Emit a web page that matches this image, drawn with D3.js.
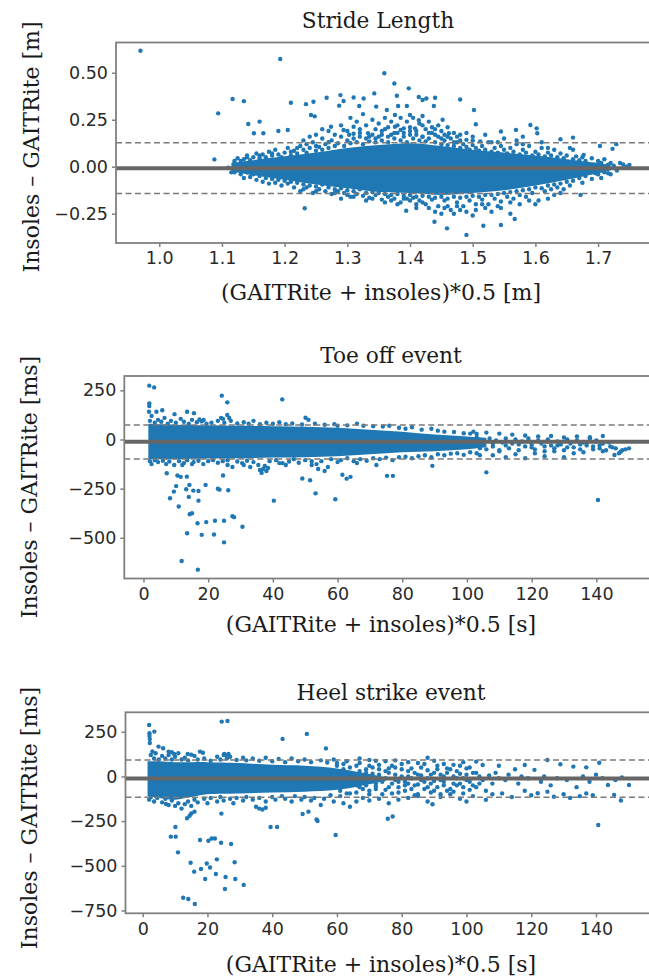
<!DOCTYPE html>
<html><head><meta charset="utf-8">
<script src="https://cdn.jsdelivr.net/npm/d3@7"></script>
<style>body{margin:0;background:#fff}svg{display:block}</style>
</head><body>
<script>
// ---------------- DATA ----------------
// Panel 1: Stride Length
const strideTitle = "Stride Length";
const strideXLabel = "(GAITRite + insoles)*0.5 [m]";
const strideYLabel = "Insoles – GAITRite [m]";
const strideXTicks = [1.0,1.1,1.2,1.3,1.4,1.5,1.6,1.7];
const strideYTicks = [-0.25,0.0,0.25,0.5];
const strideLimits = [-0.008, 0.128, -0.143]; // mean, upper LoA, lower LoA
const strideBandX  = [1.115,1.15,1.2,1.25,1.3,1.35,1.4,1.45,1.5,1.55,1.6,1.65,1.7,1.72];
const strideBandLo = [-0.025,-0.045,-0.07,-0.095,-0.115,-0.135,-0.14,-0.15,-0.14,-0.125,-0.1,-0.07,-0.035,-0.02];
const strideBandHi = [0.02,0.035,0.055,0.075,0.1,0.115,0.125,0.11,0.09,0.075,0.06,0.04,0.02,0.01];
const stridePoints = [
[0.970,0.617],[1.193,0.573],[1.359,0.497],[1.375,0.443],[1.398,0.417],[1.379,0.378],[1.480,0.358],[1.094,0.284],[1.117,0.360],[1.135,0.349],[1.502,0.302],[1.088,0.039],[1.232,-0.221],[1.394,-0.234],[1.459,-0.328],[1.490,-0.363],[1.517,-0.314],[1.545,-0.310],[1.567,-0.278],[1.439,-0.293],
[1.142,0.227],[1.160,0.240],[1.151,0.178],[1.166,0.178],[1.190,0.19],[1.205,0.195],[1.21,0.34],[1.234,0.333],[1.246,0.346],[1.242,0.275],[1.248,0.268],[1.267,0.367],[1.289,0.381],[1.287,0.325],[1.294,0.35],[1.310,0.368],[1.319,0.323],[1.326,0.363],[1.343,0.390],[1.346,0.32],[1.363,0.302],[1.376,0.275],[1.381,0.323],[1.395,0.323],[1.400,0.275],[1.414,0.371],[1.420,0.355],[1.426,0.363],[1.44,0.367],[1.438,0.323],[1.414,0.248],[1.408,0.204],[1.385,0.196],[1.452,0.25],[1.462,0.178],[1.475,0.16],[1.505,0.226],[1.49,0.143],[1.512,0.135],[1.545,0.187],[1.569,0.196],[1.592,0.222],[1.602,0.204],[1.603,0.178],[1.640,0.146],[1.660,0.155],[1.677,0.063],[1.703,0.11],[1.723,0.095],[1.729,0.12],[1.716,0.011],[1.740,0.012],[1.683,-0.021],[1.696,-0.035],[1.716,-0.035],[1.672,-0.15],
[1.274,0.213],[1.294,0.195],[1.303,0.17],[1.31,0.213],[1.32,0.16],[1.333,0.178],[1.345,0.15],[1.355,0.19],[1.365,0.16],[1.376,0.213],[1.39,0.204],[1.40,0.19],[1.42,0.22],[1.43,0.18],[1.44,0.2],[1.45,0.15],[1.47,0.13],[1.48,0.17],[1.27,0.13],[1.28,0.17],[1.26,0.15],[1.25,0.11],[1.235,0.12],[1.22,0.10],[1.21,0.08],[1.18,0.07],[1.16,0.06],[1.14,0.05],[1.13,0.03],[1.12,0.02],[1.11,-0.005],[1.115,-0.03],
[1.23,-0.12],[1.25,-0.13],[1.28,-0.14],[1.30,-0.15],[1.34,-0.17],[1.37,-0.18],[1.40,-0.18],[1.41,-0.2],[1.43,-0.22],[1.45,-0.25],[1.46,-0.21],[1.48,-0.23],[1.50,-0.26],[1.52,-0.22],[1.54,-0.21],[1.56,-0.19],[1.60,-0.2],[1.63,-0.15],[1.75,0.01],[1.66,0.09],[1.62,0.1],[1.58,0.12],[1.54,0.13],[1.50,0.14],[1.46,0.16],[1.42,0.16]
];
const stridePlume = [
[1.29,0.22],[1.30,0.19],[1.305,0.26],[1.31,0.175],[1.315,0.24],[1.32,0.2],[1.325,0.28],[1.33,0.22],[1.335,0.16],[1.34,0.25],[1.345,0.2],[1.35,0.23],[1.355,0.17],[1.36,0.26],[1.365,0.21],[1.37,0.24],[1.375,0.18],[1.38,0.22],[1.385,0.26],[1.39,0.18],[1.395,0.24],[1.40,0.21],[1.405,0.26],[1.41,0.17],[1.415,0.23],[1.42,0.27],[1.425,0.2],[1.43,0.24],[1.435,0.21],[1.44,0.17],[1.445,0.22],[1.45,0.19],[1.455,0.17],[1.46,0.21],[1.47,0.18],[1.48,0.14],[1.49,0.18],[1.50,0.16],[1.52,0.17],[1.53,0.13],[1.55,0.15],[1.57,0.14],[1.58,0.16],[1.61,0.13],[1.27,0.19],[1.26,0.2],[1.25,0.17],[1.24,0.16],[1.23,0.14],
[1.36,-0.19],[1.38,-0.2],[1.39,-0.17],[1.41,-0.22],[1.42,-0.19],[1.44,-0.24],[1.455,-0.22],[1.47,-0.25],[1.475,-0.21],[1.49,-0.24],[1.505,-0.23],[1.515,-0.2],[1.53,-0.24],[1.545,-0.22],[1.56,-0.25],[1.575,-0.2],[1.59,-0.18],[1.62,-0.17],[1.64,-0.14],[1.33,-0.18],[1.31,-0.16],[1.29,-0.17]
];
const strideEdgeUpper = [
[1.12,0.03],[1.125,0.045],[1.13,0.01],[1.135,0.04],[1.14,0.06],[1.145,0.035],[1.15,0.05],[1.155,0.07],[1.16,0.045],[1.165,0.065],[1.17,0.05],[1.175,0.08],[1.18,0.06],[1.185,0.09],[1.19,0.065],[1.195,0.05],[1.2,0.075],[1.205,0.1],[1.21,0.06],[1.215,0.085],[1.22,0.07],[1.225,0.11],[1.23,0.09],[1.235,0.075],[1.24,0.1],[1.245,0.13],[1.25,0.085],[1.255,0.105],[1.26,0.09],[1.265,0.12],[1.27,0.1],[1.275,0.14],[1.28,0.11],[1.285,0.125],[1.29,0.16],[1.295,0.11],[1.3,0.14],[1.305,0.125],[1.31,0.15],[1.315,0.13],[1.32,0.18],[1.325,0.12],[1.33,0.15],[1.335,0.135],[1.34,0.17],[1.345,0.13],[1.35,0.16],[1.355,0.14],[1.36,0.2],[1.365,0.13],[1.37,0.17],[1.375,0.15],[1.38,0.18],[1.385,0.14],[1.39,0.16],[1.395,0.13],[1.4,0.17],[1.405,0.15],[1.41,0.19],[1.415,0.14],[1.42,0.16],[1.425,0.135],[1.43,0.15],[1.435,0.18],[1.44,0.13],[1.445,0.16],[1.45,0.12],[1.455,0.14],[1.46,0.115],[1.465,0.15],[1.47,0.11],[1.475,0.13],[1.48,0.1],[1.485,0.12],[1.49,0.105],[1.495,0.09],[1.5,0.115],[1.505,0.1],[1.51,0.085],[1.515,0.11],[1.52,0.09],[1.525,0.13],[1.53,0.08],[1.535,0.1],[1.54,0.075],[1.545,0.11],[1.55,0.09],[1.555,0.07],[1.56,0.1],[1.565,0.08],[1.57,0.12],[1.575,0.065],[1.58,0.09],[1.585,0.075],[1.59,0.11],[1.595,0.06],[1.6,0.08],[1.605,0.065],[1.61,0.1],[1.615,0.055],[1.62,0.075],[1.625,0.06],[1.63,0.09],[1.635,0.05],[1.64,0.07],[1.645,0.045],[1.65,0.06],[1.655,0.1],[1.66,0.04],[1.665,0.055],[1.67,0.035],[1.675,0.05],[1.68,0.03],[1.69,0.045],[1.7,0.03],[1.705,0.02],[1.71,0.04],[1.72,0.02],[1.725,0.005],[1.735,0.02],[1.745,0.0]
];
const strideEdgeLower = [
[1.12,-0.03],[1.125,-0.015],[1.13,-0.04],[1.135,-0.06],[1.14,-0.03],[1.145,-0.055],[1.15,-0.04],[1.155,-0.07],[1.16,-0.05],[1.165,-0.08],[1.17,-0.06],[1.175,-0.09],[1.18,-0.065],[1.185,-0.085],[1.19,-0.07],[1.195,-0.1],[1.2,-0.075],[1.205,-0.09],[1.21,-0.08],[1.215,-0.11],[1.22,-0.085],[1.225,-0.13],[1.23,-0.095],[1.235,-0.11],[1.24,-0.1],[1.245,-0.14],[1.25,-0.105],[1.255,-0.12],[1.26,-0.095],[1.265,-0.13],[1.27,-0.11],[1.275,-0.145],[1.28,-0.12],[1.285,-0.13],[1.29,-0.115],[1.295,-0.14],[1.3,-0.125],[1.305,-0.16],[1.31,-0.13],[1.315,-0.145],[1.32,-0.12],[1.325,-0.155],[1.33,-0.14],[1.335,-0.165],[1.34,-0.135],[1.345,-0.15],[1.35,-0.14],[1.355,-0.175],[1.36,-0.145],[1.365,-0.16],[1.37,-0.15],[1.375,-0.17],[1.38,-0.145],[1.385,-0.19],[1.39,-0.155],[1.395,-0.17],[1.4,-0.15],[1.405,-0.165],[1.41,-0.16],[1.415,-0.18],[1.42,-0.155],[1.425,-0.2],[1.43,-0.16],[1.435,-0.175],[1.44,-0.165],[1.445,-0.21],[1.45,-0.16],[1.455,-0.18],[1.46,-0.17],[1.465,-0.23],[1.47,-0.16],[1.475,-0.19],[1.48,-0.165],[1.485,-0.21],[1.49,-0.16],[1.495,-0.18],[1.5,-0.155],[1.505,-0.2],[1.51,-0.16],[1.515,-0.175],[1.52,-0.15],[1.525,-0.2],[1.53,-0.15],[1.535,-0.17],[1.54,-0.145],[1.545,-0.185],[1.55,-0.14],[1.555,-0.16],[1.56,-0.135],[1.565,-0.17],[1.57,-0.13],[1.575,-0.15],[1.58,-0.125],[1.585,-0.16],[1.59,-0.12],[1.595,-0.14],[1.6,-0.11],[1.605,-0.18],[1.61,-0.115],[1.615,-0.13],[1.62,-0.1],[1.625,-0.12],[1.63,-0.095],[1.635,-0.11],[1.64,-0.09],[1.645,-0.12],[1.65,-0.08],[1.655,-0.1],[1.66,-0.075],[1.67,-0.06],[1.675,-0.085],[1.68,-0.05],[1.69,-0.065],[1.7,-0.04],[1.705,-0.06],[1.71,-0.03],[1.72,-0.04],[1.73,-0.02]
];

// Panel 2: Toe off event
const toeTitle = "Toe off event";
const toeXLabel = "(GAITRite + insoles)*0.5 [s]";
const toeYLabel = "Insoles – GAITRite [ms]";
const toeXTicks = [0,20,40,60,80,100,120,140];
const toeYTicks = [-500,-250,0,250];
const toeLimits = [-11, 74, -99];
const toeBandX  = [1.5,10,20,30,40,50,60,70,80,90,100,106];
const toeBandLo = [-100,-100,-97,-95,-92,-90,-85,-75,-65,-60,-50,-40];
const toeBandHi = [80,75,72,70,68,65,60,50,40,25,15,8];
const toePoints = [
[1.8,274],[3.3,265],[1.8,184],[1.8,170],[1.7,141],[4.0,141],[5.8,149],[9.6,129],[13.5,141],[15.6,134],[17.3,102],[18.6,99],[24.2,223],[25.9,189],[25.9,125],[24.6,105],[26.5,110],[42.9,204],[50.1,111],[142,18],[140,-5],
[7.2,-172],[8.2,-299],[9.4,-265],[10.9,-341],[10.1,-237],[10.5,-183],[11.5,-190],[13.4,-189],[13.2,-253],[13.5,-477],[11.8,-618],[14.2,-231],[14,-292],[14.3,-380],[15.0,-375],[16.8,-662],[15.4,-260],[16.7,-426],[18.0,-485],[19.4,-420],[17.0,-311],[17,-262],[19.2,-231],[21.8,-483],[22.1,-413],[23,-250],[23.5,-255],[24.9,-413],[24.6,-183],[24.9,-523],[26.2,-258],[27.5,-390],[28,-395],[30.6,-444],[40.3,-311],[49.1,-198],[51.5,-207],[53.2,-274],[59.3,-304],[61.5,-179],[62.8,-199],[64,-190],[75.3,-185],[77.1,-185],[36,-155],[37,-150],[38,-160],[36.5,-170],[38.5,-145],[140.5,-308],[106,-167],[89.3,-134],[150.1,-45],[145.6,-79],[147.5,-62],[144.3,-36],
[12,-130],[15,-125],[26,-130],[31,-130],[33,-140],[42,-120],[44,-130],[52,-130],[54,-150],[56,-160],[57,-140],[66,-120],[72,-130]
];
const toeEdgeUpper = [
[2,95],[2.5,120],[3.5,85],[4.5,100],[5.5,90],[6.5,110],[7.5,80],[8.5,95],[10,85],[11.5,105],[12.5,90],[14,80],[15,100],[16.5,88],[18,92],[19.5,80],[21,85],[23,95],[24,110],[25,85],[27,95],[29,82],[31,88],[32.5,80],[34,95],[36,78],[38,85],[40,80],[42,88],[44,78],[46,82],[49,76],[51,100],[53,80],[56,75],[59,78],[60,70],[63,72],[66,80],[68,70],[71,68],[74,66],[76,70],[79,60],[81,55],[83,62],[86,50],[89,55],[91,45],[93,40],[96,38],[99,32],[101,30],[103,28]
];
const toeEdgeLower = [
[2,-110],[2.5,-125],[3.5,-105],[4.5,-115],[6,-108],[7,-125],[8,-112],[9.5,-130],[11,-110],[12.5,-120],[13.5,-105],[15.5,-115],[17,-108],[18.5,-125],[20,-110],[21.5,-105],[23,-118],[24.5,-110],[26,-105],[27.5,-140],[29,-112],[30.5,-120],[32,-108],[34,-115],[35.5,-130],[37.5,-135],[39,-110],[41,-105],[43,-120],[45,-112],[46.5,-100],[48,-118],[50,-105],[52,-110],[53.5,-125],[55,-110],[58,-100],[60,-115],[61,-105],[63,-95],[65,-110],[67,-100],[69,-108],[71,-95],[73,-100],[75,-92],[77,-105],[79,-90],[81,-88],[83,-95],[85,-85],[87,-80],[89,-90],[91,-75],[93,-80],[95,-72],[97,-70],[99,-78],[101,-65],[103,-70]
];
const toeTail = [
[101,0],[102,-20],[103,10],[104,-30],[105,-10],[106,-50],[107,5],[108,-35],[109,-5],[110,-60],[111,-15],[112,5],[113,-45],[114,-20],[115,0],[116,-55],[117,-10],[118,-35],[119,5],[120,-25],[121,-50],[122,-5],[123,-20],[124,-60],[125,0],[126,-30],[127,-45],[128,-10],[129,-25],[130,-55],[131,0],[132,-20],[133,-40],[134,-5],[135,-50],[136,-15],[137,-30],[138,5],[139,-35],[140,-10],[141,-45],[142,-20],[143,-55],[144,-15],[145,-40],[147,-70],[148,-55],[149,-50],
[104,-80],[108,-80],[112,-90],[115,-75],[118,-95],[121,-70],[124,-85],[127,-60],[130,-90],[133,-70],[136,-65],[139,-50],[142,-60],[131,-40],[128,-30],[124,-35],[120,-40],[116,-25],[112,-30],[108,-20],[104,-45],[110,-55],[125,-10],[135,-25],[141,-30],[137,-15],[146,-45],
[102,40],[106,35],[110,30],[114,25],[118,20],[122,15],[126,18],[130,10],[134,15],[138,12]
];

// Panel 3: Heel strike event
const heelTitle = "Heel strike event";
const heelXLabel = "(GAITRite + insoles)*0.5 [s]";
const heelYLabel = "Insoles – GAITRite [ms]";
const heelXTicks = [0,20,40,60,80,100,120,140];
const heelYTicks = [-750,-500,-250,0,250];
const heelLimits = [-11, 92, -116];
const heelBandX  = [1.5,5,10,15,20,30,40,50,60,68,75];
const heelBandLo = [-110,-120,-130,-115,-100,-95,-90,-85,-75,-50,-25];
const heelBandHi = [85,85,80,80,80,75,65,60,45,20,-5];
const heelPoints = [
[2.0,288],[2.1,242],[2.1,227],[2.2,209],[2.2,187],[3.6,251],[4.9,167],[6.3,158],[8,139],[9,136],[9.7,126],[13.9,126],[15,122],[17.7,139],[18.6,133],[24.4,307],[26.2,311],[25.2,126],[25.7,118],[26.5,126],[43.2,210],[50.7,238],[56.6,157],
[67,100],[70,92],[72,88],[75,85],[78,90],[82,80],[85,75],[88,105],[90,88],[93,70],[96,65],[99,80],[103,83],[105,64],[110,60],[115,40],[118,64],[121,37],[125,92],[129,68],[133,55],[137,51],[141,77],
[7.2,-154],[8.7,-337],[10.2,-337],[10.1,-283],[10.9,-425],[12.5,-679],[14.1,-686],[13.7,-234],[14.5,-220],[15,-207],[16.0,-197],[16.1,-714],[14.8,-483],[15.9,-533],[17.7,-356],[18.0,-518],[19.3,-574],[19.8,-487],[20.3,-360],[21.3,-347],[22.3,-347],[20.8,-510],[22.9,-464],[22.6,-546],[24.2,-371],[25.4,-630],[25.6,-563],[27.3,-378],[28.4,-480],[28.6,-574],[31.2,-607],[24.3,-208],[39.5,-283],[41.5,-283],[49.4,-210],[51.2,-197],[53.7,-241],[54,-250],[59.6,-328],[75.7,-237],[77.2,-224],[140.7,-272],
[35,-170],[36,-180],[37,-185],[38,-175],[55,-160],[62,-150],[64,-170],[66,-140],[68,-120],[70,-135],[73,-125],[76,-150],[79,-130],[82,-120],[85,-110],[88,-140],[89.5,-156],[92,-115],[95,-100],[98,-125],[100,-140],[102,-110],[106,-131],[108,-100],[111,-95],[114,-115],[118,-80],[120,-105],[122,-94],[125,-85],[127,-114],[130,-100],[132,-120],[135,-110],[137,-95],[139,-105],[143.7,-48],[145.6,-103],[147.7,-135],[150.2,-48]
];
const heelEdgeUpper = [
[2.5,120],[3,140],[3.5,100],[4,130],[5,95],[6,115],[7,100],[8,120],[9,95],[10,110],[11,130],[12,95],[13,105],[14,90],[16,115],[17,95],[19,100],[21,88],[23,110],[24,95],[25,120],[26,100],[27,110],[29,92],[31,105],[32,90],[34,100],[36,88],[38,105],[40,85],[42,98],[44,80],[46,100],[48,85],[50,95],[52,80],[55,90],[57,78],[59,95],[60,75],[63,85]
];
const heelEdgeLower = [
[2,-130],[2.5,-115],[3.5,-140],[4.5,-120],[6,-145],[7,-125],[8,-160],[9,-135],[10,-165],[11,-150],[12,-180],[13,-155],[14,-140],[15,-165],[16,-130],[17,-145],[19,-125],[20,-150],[21,-120],[23,-140],[24,-115],[25,-135],[27,-125],[28,-150],[29,-120],[31,-135],[32,-115],[34,-130],[36,-120],[38,-140],[40,-115],[41,-130],[43,-110],[44,-125],[46,-140],[47,-110],[49,-130],[50,-115],[52,-135],[53,-120],[56,-125],[58,-105],[59,-140],[61,-110],[63,-95]
];
const heelTail = [
[60,60],[61,-80],[62,70],[63,-30],[64,-95],[65,10],[66,-50],[67,75],[68,-70],[69,40],[70,-100],[71,15],[72,-55],[73,65],[74,-15],[75,-75],[76,45],[77,-95],[78,10],[79,-30],[80,70],[81,-80],[82,-40],[83,45],[84,-105],[85,-45],[86,5],[87,-70],[88,35],[89,-90],[90,-25],[91,60],[92,-100],[93,0],[94,45],[96,-85],[97,-50],[98,15],[99,-95],[100,45],[101,-75],
[61,-60],[62,-10],[63,20],[64,50],[65,-40],[66,-90],[67,30],[68,-10],[69,-50],[70,60],[71,-20],[72,-70],[73,40],[74,-30],[75,-10],[76,20],[77,-40],[78,50],[79,-60],[80,0],[81,-30],[82,30],[83,-10],[84,-50],[85,10],[86,-20],[87,70],[88,-10],[89,-40],[90,20],[91,-60],[92,10],[93,-30],[94,-80],[95,40],[96,-40],[97,-10],[98,60],[99,-60],[100,-20],[101,50],[102,-50],[103,20],[104,-40],
[62,40],[64,-20],[66,60],[67,-60],[69,20],[70,-80],[71,50],[72,-40],[73,10],[74,-100],[75,30],[76,-60],[77,60],[78,-20],[79,-90],[80,40],[81,-50],[82,0],[83,-70],[84,20],[85,-100],[86,50],[87,-30],[88,-60],[89,10],[90,-80],[91,40],[92,-20],[93,-50],[94,20],[95,-70],[96,0],[97,30],[98,-40],[99,-10],[100,10],[101,-30],[102,20],[103,-60],[104,0],[105,-20],[106,-80],[107,5],[108,-40],[109,20],[110,-10],[112,-20],[113,10],[116,-40],[117,0],[119,-10],[123,-30],[124,0],[126,-50],[128,-10],[131,-20],[134,-60],[136,0],[138,-30],[140,10],[142,-10],[146,-20],[148,-5]
];

// ---------------- DRAWING ----------------
const W = 649, H = 979;
const BLUE = "#1f77b4";
const svg = d3.select("body").append("svg").attr("width", W).attr("height", H);
const fmtMinus = s => s.replace("-", "\u2212");

function drawPanel(o) {
  const x = d3.scaleLinear().domain(o.xDomain).range([o.left, o.right]);
  const y = d3.scaleLinear().domain(o.yDomain).range([o.bottom, o.top]);
  const g = svg.append("g");
  const cid = "clip" + o.id;
  svg.append("clipPath").attr("id", cid).append("rect")
    .attr("x", o.left).attr("y", o.top).attr("width", o.right - o.left).attr("height", o.bottom - o.top);
  const plot = g.append("g").attr("clip-path", `url(#${cid})`);

  // dense core of overlapping markers, drawn as a filled band
  const band = o.bandX.map((v, i) => [v, o.bandLo[i], o.bandHi[i]]);
  plot.append("path").datum(band)
    .attr("d", d3.area().curve(d3.curveCatmullRom).x(d => x(d[0])).y0(d => y(d[1])).y1(d => y(d[2])))
    .attr("fill", BLUE);

  plot.append("g").selectAll("circle").data(o.points).join("circle")
    .attr("cx", d => x(d[0])).attr("cy", d => y(d[1])).attr("r", 2.2).attr("fill", BLUE);

  // limits of agreement
  [o.limits[1], o.limits[2]].forEach(v => {
    plot.append("line").attr("x1", o.left).attr("x2", o.right).attr("y1", y(v)).attr("y2", y(v))
      .attr("stroke", "#7a7a7a").attr("stroke-width", 1.5).attr("stroke-dasharray", "6,3.5");
  });
  plot.append("line").attr("x1", o.left).attr("x2", o.right).attr("y1", y(o.limits[0])).attr("y2", y(o.limits[0]))
    .attr("stroke", "#666").attr("stroke-width", 4);

  // frame
  g.append("rect").attr("x", o.left).attr("y", o.top).attr("width", o.right - o.left).attr("height", o.bottom - o.top)
    .attr("fill", "none").attr("stroke", "#808080").attr("stroke-width", 1.8);

  const xa = g.append("g").attr("transform", `translate(0,${o.bottom})`)
    .call(d3.axisBottom(x).tickValues(o.xTicks).tickFormat(o.xFmt).tickSize(4).tickPadding(5));
  const ya = g.append("g").attr("transform", `translate(${o.left},0)`)
    .call(d3.axisLeft(y).tickValues(o.yTicks).tickFormat(d => fmtMinus(o.yFmt(d))).tickSize(4).tickPadding(4));
  [xa, ya].forEach(a => {
    a.select(".domain").remove();
    a.selectAll(".tick line").attr("stroke", "#808080").attr("stroke-width", 1.5);
    a.selectAll(".tick text").attr("fill", "#2a2a2a").style("font-family", "'DejaVu Sans'").style("font-size", "17.5px");
  });

  const serif = "'DejaVu Serif', serif";
  g.append("text").attr("x", o.titleX).attr("y", o.titleY).attr("text-anchor", "middle")
    .style("font-family", serif).style("font-size", "21.7px").attr("fill", "#1a1a1a").text(o.title);
  g.append("text").attr("x", o.xlabX).attr("y", o.xlabY).attr("text-anchor", "middle")
    .style("font-family", serif).style("font-size", "22px").attr("fill", "#1a1a1a").text(o.xlab);
  g.append("text").attr("transform", `translate(${o.ylabX},${o.ylabY}) rotate(-90)`).attr("text-anchor", "middle")
    .attr("dominant-baseline", "central")
    .style("font-family", serif).style("font-size", "22px").attr("fill", "#1a1a1a").text(o.ylab);
}

drawPanel({
  id: 1, left: 116, right: 652, top: 42.5, bottom: 243,
  xDomain: [0.931, 1.786], yDomain: [-0.406, 0.661],
  xTicks: strideXTicks, yTicks: strideYTicks, xFmt: d3.format(".1f"), yFmt: d3.format(".2f"),
  bandX: strideBandX, bandLo: strideBandLo, bandHi: strideBandHi,
  points: stridePoints.concat(stridePlume, strideEdgeUpper, strideEdgeLower), limits: strideLimits,
  title: strideTitle, titleX: 378, titleY: 28, xlab: strideXLabel, xlabX: 381, xlabY: 300,
  ylab: strideYLabel, ylabX: 31, ylabY: 147
});
drawPanel({
  id: 2, left: 124.3, right: 652, top: 376, bottom: 578.5,
  xDomain: [-5.93, 157.2], yDomain: [-707, 323],
  xTicks: toeXTicks, yTicks: toeYTicks, xFmt: d3.format("d"), yFmt: d3.format("d"),
  bandX: toeBandX, bandLo: toeBandLo, bandHi: toeBandHi,
  points: toePoints.concat(toeEdgeUpper, toeEdgeLower, toeTail), limits: toeLimits,
  title: toeTitle, titleX: 391, titleY: 363, xlab: toeXLabel, xlabX: 381, xlabY: 632,
  ylab: toeYLabel, ylabX: 29, ylabY: 487
});
drawPanel({
  id: 3, left: 125.5, right: 652, top: 712.3, bottom: 913.3,
  xDomain: [-5.31, 157.3], yDomain: [-766, 359],
  xTicks: heelXTicks, yTicks: heelYTicks, xFmt: d3.format("d"), yFmt: d3.format("d"),
  bandX: heelBandX, bandLo: heelBandLo, bandHi: heelBandHi,
  points: heelPoints.concat(heelEdgeUpper, heelEdgeLower, heelTail), limits: heelLimits,
  title: heelTitle, titleX: 391, titleY: 700, xlab: heelXLabel, xlabX: 381, xlabY: 972,
  ylab: heelYLabel, ylabX: 29, ylabY: 818
});
</script>
</body></html>
